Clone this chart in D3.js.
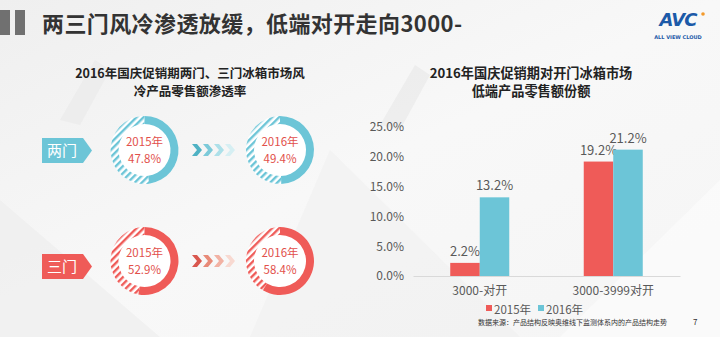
<!DOCTYPE html>
<html><head><meta charset="utf-8">
<script src="https://cdn.jsdelivr.net/npm/d3@7"></script>
<style>
html,body{margin:0;padding:0;background:#fff;}
svg{display:block;font-family:"Noto Sans CJK SC","Noto Sans",sans-serif;}
</style></head>
<body><svg id="c" width="720" height="337"></svg>
<script>
// ---- data ----
const doorTypes = ["两门", "三门"];
const years = ["2015年", "2016年"];
const penetration2015 = [47.8, 52.9];
const penetration2016 = [49.4, 58.4];
const barCategories = ["3000-对开", "3000-3999对开"];
const share2015 = [2.2, 19.2];
const share2016 = [13.2, 21.2];
const yTicks = [0, 5, 10, 15, 20, 25];
const titleText = "两三门风冷渗透放缓，低端对开走向3000-";
const leftSubtitle = ["2016年国庆促销期两门、三门冰箱市场风", "冷产品零售额渗透率"];
const rightSubtitle = ["2016年国庆促销期对开门冰箱市场", "低端产品零售额份额"];
const sourceText = "数据来源：产品结构反映奥维线下监测体系内的产品结构走势";

const BLUE = "#6cc5d7", RED = "#ef5b58";
const rowColors = [BLUE, RED];

const svg = d3.select("#c");
const defs = svg.append("defs");

// background
const bg = defs.append("linearGradient").attr("id","bg").attr("x1","0").attr("y1","0").attr("x2","1").attr("y2","1");
bg.append("stop").attr("offset","0").attr("stop-color","#efefef");
bg.append("stop").attr("offset","0.5").attr("stop-color","#f8f8f8");
bg.append("stop").attr("offset","1").attr("stop-color","#f5f5f5");
svg.append("rect").attr("width",720).attr("height",337).attr("fill","url(#bg)");
svg.append("path").attr("d","M0,337 L0,200 L160,337 Z").attr("fill","#ececec").attr("opacity",0.6);
svg.append("path").attr("d","M250,337 L330,150 L520,337 Z").attr("fill","#f1f1f1").attr("opacity",0.7);
svg.append("path").attr("d","M560,337 L720,180 L720,337 Z").attr("fill","#fbfbfb").attr("opacity",0.9);
svg.append("path").attr("d","M60,120 L95,60 L110,70 L80,125 Z").attr("fill","#ebebeb").attr("opacity",0.8);
svg.append("path").attr("d","M380,125 L415,65 L430,75 L400,130 Z").attr("fill","#ebebeb").attr("opacity",0.8);

// header bars
svg.append("rect").attr("x",0).attr("y",10).attr("width",10).attr("height",25).attr("fill","#707070");
svg.append("rect").attr("x",15).attr("y",10).attr("width",10).attr("height",25).attr("fill","#707070");
svg.append("text").attr("x",42).attr("y",32).attr("font-size",22).attr("letter-spacing",0.4).attr("font-weight","bold").attr("fill","#333").text(titleText);

// logo
const logo = svg.append("g");
logo.append("text").attr("x",678).attr("y",26).attr("text-anchor","middle").attr("font-size",18).attr("font-weight","900")
  .attr("font-style","italic").attr("fill","#1c5aa8").attr("font-family","DejaVu Sans, sans-serif").attr("letter-spacing",-1).text("AVC");
logo.append("circle").attr("cx",703).attr("cy",14).attr("r",1.8).attr("fill","#f39a2b");
logo.append("text").attr("x",678).attr("y",39).attr("text-anchor","middle").attr("font-size",5).attr("font-weight","bold")
  .attr("fill","#1c5aa8").attr("font-family","DejaVu Sans, sans-serif").text("ALL VIEW CLOUD");

// subtitles
function subtitle(lines, cx, fs) {
  lines.forEach((l, i) => svg.append("text").attr("x",cx).attr("y",78 + i*18).attr("text-anchor","middle")
    .attr("font-size",fs).attr("font-weight","bold").attr("fill","#222").text(l));
}
subtitle(leftSubtitle, 190, 12.5);
subtitle(rightSubtitle, 531, 13.2);

// hatch patterns
rowColors.forEach((c, i) => {
  const p = defs.append("pattern").attr("id","hatch"+i).attr("patternUnits","userSpaceOnUse")
    .attr("width",5).attr("height",5).attr("patternTransform","rotate(45)");
  p.append("rect").attr("width",5).attr("height",5).attr("fill","#fff");
  p.append("rect").attr("x",0).attr("y",0).attr("width",2.4).attr("height",5).attr("fill",c);
});

// donuts
const angle = d3.scaleLinear().domain([0,100]).range([0, 2*Math.PI]);
const arc = d3.arc().innerRadius(26).outerRadius(34);
const rowY = [150, 261];
const boxY = [150.5, 266.5];
const donutX = d3.scalePoint().domain(years).range([144.5, 280]);
const rows = [penetration2015, penetration2016];

doorTypes.forEach((dt, r) => {
  const color = rowColors[r];
  const by = boxY[r];
  svg.append("path").attr("d", `M42,${by-12.5} L83,${by-12.5} L92,${by} L83,${by+12.5} L42,${by+12.5} Z`).attr("fill", color);
  svg.append("text").attr("x",62).attr("y",by+5.5).attr("text-anchor","middle").attr("font-size",15).attr("fill","#fff").text(dt);

  years.forEach((yr, k) => {
    const v = rows[k][r];
    const g = svg.append("g").attr("transform", `translate(${donutX(yr)},${rowY[r]})`);
    g.append("circle").attr("r",34).attr("fill","#fff");
    g.append("path").attr("d", arc({startAngle: angle(v), endAngle: angle(100)})).attr("fill", `url(#hatch${r})`);
    g.append("path").attr("d", arc({startAngle: 0, endAngle: angle(v)})).attr("fill", color);
    g.append("text").attr("y",-4.5).attr("text-anchor","middle").attr("font-size",11.5).attr("fill","#e2504b").text(yr);
    g.append("text").attr("y",12.5).attr("text-anchor","middle").attr("font-size",11.5).attr("fill","#e2504b").text(v.toFixed(1) + "%");
  });

  const cy = rowY[r];
  const chevCols = r === 0 ? ["#4fb2c4","#7ccad9","#ade0e9","#d6eff3"] : ["#d9574e","#e88a78","#f2b2a4","#f8d9d1"];
  chevCols.forEach((c, i) => {
    const x0 = 192 + i*11;
    svg.append("path").attr("d", `M${x0},${cy-6} L${x0+5},${cy-6} L${x0+10},${cy} L${x0+5},${cy+6} L${x0},${cy+6} L${x0+5},${cy} Z`).attr("fill", c);
  });
});

// bar chart
const y = d3.scaleLinear().domain([0,25]).range([276,127]);
const x0 = d3.scaleBand().domain(barCategories).range([413,680]).paddingInner(0.558).paddingOuter(0.279);
const x1 = d3.scaleBand().domain(years).range([0, x0.bandwidth()]);
const series = [share2015, share2016];
const seriesColors = [RED, BLUE];

const yAxis = svg.append("g").attr("transform","translate(413,0)")
  .call(d3.axisLeft(y).tickValues(yTicks).tickFormat(d => d.toFixed(1) + "%").tickSize(0).tickPadding(9));
yAxis.select(".domain").remove();
yAxis.selectAll("text").attr("font-size",12).attr("fill","#595959").attr("font-family","Noto Sans CJK SC, sans-serif");

barCategories.forEach((cat, ci) => {
  years.forEach((yr, k) => {
    const v = series[k][ci];
    const bx = x0(cat) + x1(yr);
    svg.append("rect").attr("x", bx).attr("y", y(v)).attr("width", x1.bandwidth()).attr("height", y(0) - y(v))
      .attr("fill", seriesColors[k]);
    svg.append("text").attr("x", bx + x1.bandwidth()/2).attr("y", y(v) - 7).attr("text-anchor","middle")
      .attr("font-size",13).attr("fill","#595959").text(v.toFixed(1) + "%");
  });
});

const xAxis = svg.append("g").attr("transform","translate(0,276)")
  .call(d3.axisBottom(x0).tickSize(0).tickPadding(10));
xAxis.select(".domain").attr("stroke","#d9d9d9");
xAxis.selectAll("text").attr("font-size",12).attr("fill","#595959").attr("font-family","Noto Sans CJK SC, sans-serif");

// legend
const leg = svg.append("g").attr("transform","translate(486,310)");
years.forEach((yr, k) => {
  const lx = k * 52;
  leg.append("rect").attr("x", lx).attr("y",-5).attr("width",6).attr("height",6).attr("fill", seriesColors[k]);
  leg.append("text").attr("x", lx + 8).attr("y",4).attr("font-size",11.5).attr("fill","#595959").text(yr);
});

// source
svg.append("text").attr("x",478).attr("y",325).attr("font-size",7).attr("fill","#333").text(sourceText);
svg.append("text").attr("x",693).attr("y",325).attr("font-size",8).attr("fill","#333").text("7");
</script></body></html>
